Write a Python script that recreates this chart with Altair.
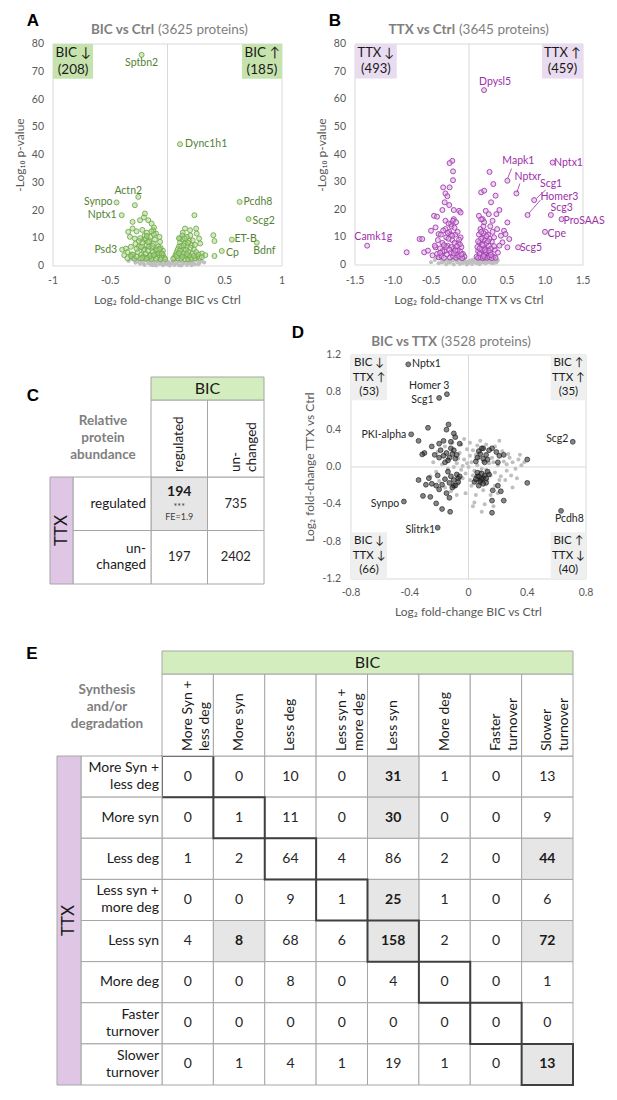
import altair as alt
import pandas as pd

W, H = 601, 1080
FONT = "Lato"
AXC = "#595959"
FRAME = "#d9d9d9"
BORDER = "#a6a6a6"

# ======================= DATA =======================
# ---- Panel A : BIC vs Ctrl (x = log2 FC, y = -log10 p) ----
a_sig = [
    (-0.226, 76.1), (0.109, 43.9), (-0.255, 24.9), (-0.445, 22.9), (-0.40, 18.3),
    (-0.396, 5.9), (-0.363, 6.3), (-0.378, 3.9), (0.63, 23.1), (0.708, 16.9),
    (0.562, 9.5), (0.78, 8.4), (0.474, 5.4), (0.40, 11.1), (0.41, 9.0), (0.41, 3.6),
    (0.235, 18.3),
    (-0.285, 21.9), (-0.197, 18.9), (-0.206, 17.5), (-0.24, 16.5), (-0.305, 15.9),
    (-0.168, 16.5), (-0.139, 15.3), (-0.118, 13.9), (-0.343, 12.3), (-0.305, 13.5),
    (-0.27, 12.5), (-0.328, 10.5), (-0.285, 9.9), (-0.206, 9.5), (-0.124, 12.9),
    (-0.10, 11.7), (-0.07, 10.5), (-0.065, 8.7), (-0.32, 6.9), (-0.35, 5.0), (-0.31, 4.2),
    (-0.28, 8.0), (-0.25, 7.0), (-0.22, 8.5), (-0.20, 6.0), (-0.18, 7.5), (-0.16, 9.0),
    (-0.14, 6.5), (-0.12, 8.0), (-0.10, 5.5), (-0.08, 7.0), (-0.06, 5.0), (-0.04, 4.0),
    (-0.03, 3.0), (-0.26, 5.0), (-0.23, 4.0), (-0.21, 3.5), (-0.19, 4.5), (-0.17, 3.0),
    (-0.15, 4.0), (-0.13, 3.2), (-0.11, 4.2), (-0.09, 3.3), (-0.07, 3.8), (-0.05, 3.0),
    (-0.30, 4.0), (-0.32, 3.5), (-0.24, 10.0), (-0.20, 11.0), (-0.15, 10.5), (-0.12, 11.5),
    (-0.18, 12.0), (-0.22, 13.0), (-0.17, 5.5), (-0.13, 5.0), (-0.09, 6.0), (-0.06, 6.5),
    (-0.27, 6.2), (-0.24, 2.8), (-0.19, 2.6), (-0.14, 2.5), (-0.10, 2.6), (-0.06, 2.4),
    (-0.02, 2.5), (-0.35, 2.8), (-0.29, 2.6), (-0.16, 7.0), (-0.11, 9.5), (-0.08, 4.6),
    (-0.21, 5.8), (-0.25, 9.0), (-0.19, 9.8), (-0.14, 12.5), (-0.04, 5.5),
    (-0.23, 6.8), (-0.17, 8.6), (-0.13, 7.2), (-0.07, 6.0), (-0.05, 4.5), (-0.15, 3.6),
    (-0.22, 2.9), (-0.27, 3.4), (-0.12, 3.9), (-0.18, 10.8),
    (0.153, 13.5), (0.133, 12.0), (0.197, 12.9), (0.255, 11.7), (0.276, 9.9), (0.285, 8.1),
    (0.25, 13.5), (0.11, 9.9), (0.30, 4.5), (0.33, 3.9),
    (0.06, 3.0), (0.08, 5.0), (0.10, 7.0), (0.12, 4.0), (0.14, 6.0), (0.16, 3.5),
    (0.18, 5.0), (0.20, 3.0), (0.22, 4.5), (0.24, 2.8), (0.26, 3.5), (0.28, 3.0),
    (0.07, 4.0), (0.09, 6.0), (0.11, 8.5), (0.13, 9.5), (0.15, 8.0), (0.17, 7.0),
    (0.19, 9.0), (0.21, 7.5), (0.23, 6.0), (0.25, 5.0), (0.09, 2.8), (0.12, 2.6),
    (0.15, 2.5), (0.18, 2.4), (0.21, 2.6), (0.05, 2.6), (0.13, 11.0), (0.10, 10.0),
    (0.17, 10.5), (0.20, 11.0), (0.08, 3.6), (0.14, 4.5), (0.19, 3.8), (0.27, 4.2),
    (0.30, 3.2), (0.11, 5.5), (0.16, 5.8), (0.12, 7.2), (0.18, 8.3), (0.22, 9.2),
    (0.24, 7.6), (0.15, 10.0), (0.10, 4.6), (0.13, 3.3), (0.17, 4.3), (0.20, 6.6),
    (0.14, 7.4), (0.23, 3.6),
]
a_ns = [
    (-0.34, 1.8), (-0.30, 2.4), (-0.28, 1.2), (-0.26, 2.0), (-0.24, 0.8), (-0.22, 1.6),
    (-0.20, 0.4), (-0.19, 2.2), (-0.17, 1.1), (-0.15, 0.5), (-0.14, 1.8), (-0.12, 0.9),
    (-0.10, 0.2), (-0.09, 1.5), (-0.07, 0.7), (-0.05, 1.2), (-0.04, 0.3), (-0.02, 0.9),
    (0.00, 0.5), (0.01, 1.4), (0.02, 0.2), (0.03, 0.8), (0.05, 1.6), (0.06, 0.4),
    (0.08, 1.0), (0.10, 0.3), (0.11, 1.7), (0.13, 0.7), (0.15, 1.3), (0.17, 0.4),
    (0.19, 1.9), (0.20, 0.9), (0.22, 1.5), (0.24, 0.6), (0.26, 2.0), (0.28, 1.1),
    (0.30, 1.8), (0.32, 1.3), (-0.08, 2.1), (0.07, 2.2), (-0.32, 2.6), (-0.29, 2.7),
    (-0.25, 1.4), (-0.21, 0.9), (-0.16, 1.6), (-0.11, 1.3), (-0.06, 1.8), (-0.01, 1.7),
    (0.04, 1.2), (0.09, 1.5), (0.14, 1.0), (0.18, 1.4), (0.23, 1.1), (0.27, 0.6),
    (-0.13, 0.3), (-0.03, 0.6), (0.12, 0.2), (0.21, 0.3),
]
a_lab_left = [("Dync1h1", 0.153, 44.0), ("Pcdh8", 0.664, 22.9), ("Scg2", 0.743, 16.3),
              ("ET-B", 0.585, 9.9), ("Cp", 0.512, 4.8)]
a_lab_center = [("Sptbn2", -0.226, 73.1), ("Actn2", -0.343, 27.1), ("Bdnf", 0.846, 5.4)]
a_lab_right = [("Synpo", -0.48, 22.9), ("Nptx1", -0.445, 18.3), ("Psd3", -0.44, 5.7)]
a_boxes = [("BIC ↓\n(208)", -1.0, -0.65, 67.5, 80.0), ("BIC ↑\n(185)", 0.65, 1.0, 67.5, 80.0)]
a_xticks = [(-1, "-1"), (-0.5, "-0.5"), (0, "0"), (0.5, "0.5"), (1, "1")]
a_yticks = [(v, str(v)) for v in [0, 10, 20, 30, 40, 50, 60, 70, 80]]

# ---- Panel B : TTX vs Ctrl ----
b_sig = [
    (0.198, 63.3), (0.505, 30.5), (1.10, 37.1), (0.624, 25.9), (0.857, 23.5), (0.77, 18.1),
    (1.077, 18.1), (1.218, 16.6), (1.00, 12.0), (0.646, 6.4), (-1.34, 7.0),
    (-0.82, 4.6), (-0.65, 9.4), (-0.615, 9.4), (-0.59, 4.6), (-0.54, 5.2), (-0.44, 6.4),
    (-0.22, 37.7), (-0.255, 36.9), (-0.21, 33.9), (-0.21, 30.7), (-0.34, 28.1), (-0.255, 28.1),
    (-0.31, 25.9), (-0.285, 24.9), (-0.32, 22.7), (-0.26, 21.7), (-0.35, 19.9), (-0.46, 17.8),
    (-0.42, 17.5), (-0.20, 19.9), (-0.13, 19.6), (-0.11, 19.0), (-0.20, 16.6), (-0.44, 13.6),
    (-0.50, 12.4), (-0.40, 11.2), (-0.31, 16.0), (-0.24, 14.8),
    (0.27, 33.7), (0.32, 29.3), (0.16, 26.3), (0.20, 26.9), (0.35, 25.1), (0.29, 22.7),
    (0.40, 19.9), (0.36, 18.4), (0.505, 15.4), (0.46, 12.4), (0.48, 11.2), (0.42, 10.6),
    (0.53, 9.4), (0.44, 8.2), (0.505, 6.4), (0.22, 19.6), (0.26, 18.4), (0.13, 17.8),
    (0.18, 16.6), (0.31, 16.0),
    (-0.42, 4.0), (-0.38, 6.0), (-0.35, 8.0), (-0.32, 5.0), (-0.30, 10.0), (-0.28, 7.0),
    (-0.26, 12.0), (-0.24, 4.5), (-0.22, 9.0), (-0.20, 6.0), (-0.18, 11.0), (-0.16, 3.5),
    (-0.14, 8.0), (-0.12, 5.0), (-0.10, 6.5), (-0.08, 4.0), (-0.06, 3.0), (-0.40, 2.8),
    (-0.36, 3.2), (-0.33, 2.6), (-0.29, 3.8), (-0.25, 2.7), (-0.21, 3.2), (-0.17, 2.6),
    (-0.13, 3.1), (-0.09, 2.5), (-0.31, 13.0), (-0.27, 15.0), (-0.23, 14.0), (-0.19, 13.5),
    (-0.15, 12.0), (-0.11, 10.0), (-0.37, 11.0), (-0.34, 12.5), (-0.41, 9.0), (-0.45, 7.0),
    (-0.48, 3.5), (-0.23, 6.5), (-0.27, 9.5), (-0.19, 8.0), (-0.15, 5.5), (-0.12, 7.5),
    (-0.35, 5.0), (-0.30, 6.5), (-0.24, 11.0), (-0.21, 16.0), (-0.17, 15.5),
    (-0.26, 5.6), (-0.20, 4.2), (-0.16, 6.8), (-0.13, 9.2), (-0.33, 7.2), (-0.28, 11.6),
    (-0.10, 3.8), (-0.38, 4.4), (-0.22, 10.6), (-0.18, 5.2),
    (0.10, 3.0), (0.12, 5.0), (0.14, 8.0), (0.16, 4.0), (0.18, 10.0), (0.20, 6.0),
    (0.22, 12.0), (0.24, 3.5), (0.26, 7.0), (0.28, 4.5), (0.30, 8.5), (0.32, 3.0),
    (0.34, 5.5), (0.11, 6.5), (0.13, 11.0), (0.15, 13.0), (0.17, 7.5), (0.19, 14.0),
    (0.21, 9.0), (0.23, 5.0), (0.25, 11.0), (0.27, 9.5), (0.29, 6.0), (0.31, 12.0),
    (0.12, 2.6), (0.15, 2.8), (0.18, 2.5), (0.21, 2.7), (0.24, 2.6), (0.27, 2.9),
    (0.30, 2.5), (0.35, 2.6), (0.14, 4.2), (0.17, 5.5), (0.20, 3.8), (0.22, 4.6),
    (0.26, 5.2), (0.16, 9.5), (0.19, 11.5), (0.23, 8.0), (0.20, 15.5), (0.16, 16.5),
    (0.28, 14.0), (0.33, 10.0), (0.38, 4.5), (0.40, 7.0), (0.37, 13.0),
    (0.14, 6.0), (0.18, 7.2), (0.21, 5.4), (0.25, 8.6), (0.12, 8.6), (0.19, 3.2),
    (0.16, 12.0), (0.29, 3.6), (0.23, 10.4), (0.33, 6.8),
]
b_ns = [
    (-0.50, 1.0), (-0.45, 1.8), (-0.40, 0.6), (-0.37, 2.2), (-0.34, 1.2), (-0.30, 0.3),
    (-0.28, 1.9), (-0.25, 0.8), (-0.22, 1.5), (-0.20, 0.2), (-0.18, 2.3), (-0.15, 1.0),
    (-0.12, 0.4), (-0.10, 1.7), (-0.08, 0.7), (-0.05, 1.3), (-0.03, 0.2), (0.00, 0.9),
    (0.02, 1.6), (0.04, 0.4), (0.06, 1.1), (0.08, 2.0), (0.10, 0.6), (0.12, 1.4),
    (0.14, 0.3), (0.16, 1.8), (0.18, 0.9), (0.20, 1.5), (0.22, 0.5), (0.24, 2.1),
    (0.26, 1.0), (0.28, 1.7), (0.30, 0.6), (0.32, 1.3), (0.34, 2.0), (0.36, 0.9),
    (0.38, 1.6), (-0.42, 2.6), (0.35, 2.5), (-0.06, 2.4),
    (-0.32, 1.6), (-0.27, 1.1), (-0.23, 2.0), (-0.17, 1.5), (-0.13, 2.0), (-0.07, 1.8),
    (-0.01, 1.4), (0.05, 1.9), (0.11, 1.1), (0.15, 1.5), (0.19, 2.2), (0.25, 1.4),
    (0.29, 1.2), (0.33, 0.7), (-0.36, 0.9), (-0.02, 0.5),
]
b_lab_center = [("Dpysl5", 0.343, 66.3), ("Mapk1", 0.65, 37.7), ("Nptxr", 0.774, 31.7),
                ("Scg1", 1.08, 29.5), ("Homer3", 1.19, 24.5), ("Scg3", 1.22, 20.5),
                ("Camk1g", -1.26, 10.0)]
b_lab_left = [("Nptx1", 1.12, 37.1), ("ProSAAS", 1.244, 16.0), ("Cpe", 1.033, 11.4),
              ("Scg5", 0.67, 6.1)]
b_leaders = [(0.56, 34.9, 0.51, 31.5), (0.67, 29.5, 0.63, 26.3),
             (0.89, 24.2, 1.01, 27.2), (0.79, 18.8, 0.94, 23.5)]
b_boxes = [("TTX ↓\n(493)", -1.5, -0.95, 67.5, 80.0), ("TTX ↑\n(459)", 0.96, 1.5, 67.5, 80.0)]
b_xticks = [(-1.5, "-1.5"), (-1.0, "-1.0"), (-0.5, "-0.5"), (0, "0.0"), (0.5, "0.5"),
            (1.0, "1.0"), (1.5, "1.5")]
b_yticks = a_yticks

# ---- Panel D : BIC vs TTX ----
d_reg = [
    (-0.41, 1.10), (-0.147, 0.78), (-0.20, 0.74), (-0.39, 0.35), (0.71, 0.27), (-0.44, -0.37),
    (0.63, -0.47), (-0.21, -0.65),
    (-0.276, 0.42), (-0.136, 0.455), (-0.15, 0.40), (-0.34, 0.28), (-0.30, 0.15), (-0.315, 0.135),
    (0.40, 0.08), (0.40, -0.17), (-0.34, -0.14), (-0.31, -0.31), (-0.26, -0.32), (-0.22, -0.39),
    (-0.18, -0.45), (-0.125, -0.48), (0.16, -0.49), (0.16, -0.36), (0.24, -0.36), (0.165, -0.25),
    (-0.10, 0.36), (-0.09, 0.32), (-0.25, 0.22), (-0.20, 0.25), (-0.17, 0.28), (-0.12, 0.27),
    (-0.06, 0.25), (0.10, 0.20), (0.16, 0.20), (0.19, 0.16), (0.21, 0.12), (0.20, 0.05),
    (0.24, 0.13), (-0.27, -0.12), (-0.25, -0.18), (-0.22, -0.20), (-0.20, -0.24), (-0.15, -0.28),
    (-0.13, -0.33), (-0.10, -0.20), (-0.07, -0.12), (-0.29, -0.19), (-0.21, -0.09),
    (0.06, -0.10), (0.08, -0.14), (0.10, -0.12), (0.12, -0.17), (0.14, -0.08), (0.07, -0.20),
    (0.20, -0.20), (0.22, -0.26), (0.04, -0.16),
    (-0.15, 0.15), (-0.13, 0.10), (-0.11, 0.14), (-0.09, 0.09), (-0.14, 0.07), (-0.10, 0.18),
    (-0.17, 0.12), (-0.08, 0.13), (-0.12, 0.20), (-0.16, 0.05), (-0.20, 0.10), (-0.19, 0.18),
    (-0.23, 0.13), (0.06, 0.10), (0.08, 0.14), (0.10, 0.09), (0.12, 0.13), (0.07, 0.17),
    (0.11, 0.05), (0.09, 0.20), (0.05, 0.06), (0.13, 0.08), (0.14, 0.18),
    (-0.12, -0.10), (-0.10, -0.14), (-0.08, -0.08), (-0.13, -0.17), (-0.09, -0.20), (-0.06, -0.10),
    (-0.14, -0.05), (-0.11, -0.22), (-0.16, -0.13), (-0.18, -0.19), (-0.07, -0.16),
    (0.07, -0.10), (0.09, -0.13), (0.11, -0.09), (0.08, -0.16), (0.10, -0.18), (0.06, -0.06),
    (0.12, -0.12), (0.13, -0.05), (0.05, -0.13), (0.09, -0.07),
]
d_other = [
    (0.00, 0.00), (0.02, 0.05), (-0.03, 0.08), (0.04, -0.04), (-0.05, -0.03), (0.06, 0.02),
    (-0.02, -0.07), (0.01, 0.12), (-0.06, 0.15), (0.03, 0.18), (0.07, 0.10), (-0.08, 0.04),
    (0.09, -0.02), (-0.04, -0.12), (0.05, -0.15), (0.02, -0.20), (-0.07, -0.18), (0.10, 0.06),
    (-0.10, 0.00), (0.12, -0.03), (0.14, 0.04), (0.16, 0.10), (0.18, -0.06), (0.20, 0.02),
    (0.22, -0.10), (0.24, 0.06), (0.26, -0.04), (0.28, 0.10), (0.30, 0.05), (0.32, -0.02),
    (0.34, 0.08), (0.27, 0.14), (0.23, 0.17), (0.25, -0.14), (0.29, -0.09), (0.18, -0.20),
    (0.20, -0.28), (0.15, -0.30), (0.10, -0.25), (0.05, -0.30), (-0.02, -0.28), (-0.08, -0.30),
    (-0.12, -0.26), (-0.16, -0.22), (-0.20, -0.15), (-0.22, -0.05), (-0.24, 0.05), (-0.21, 0.16),
    (-0.16, 0.22), (-0.11, 0.26), (-0.05, 0.24), (0.01, 0.26), (0.06, 0.23), (0.12, 0.24),
    (0.18, 0.22), (-0.14, -0.02), (-0.18, 0.03), (0.13, -0.14), (0.08, 0.28), (-0.03, 0.30),
    (0.33, -0.12), (0.36, 0.02), (0.35, 0.13), (-0.26, -0.10), (0.04, -0.38), (0.11, -0.40),
    (0.17, -0.42), (0.30, -0.22), (0.21, 0.28), (0.38, 0.05), (0.09, -0.48), (0.03, -0.42),
    (-0.01, 0.04), (0.03, -0.09), (-0.04, 0.01), (0.05, 0.13), (0.01, -0.14), (-0.07, 0.09),
    (0.08, -0.05), (-0.01, 0.19), (0.15, -0.09), (0.17, 0.05), (0.21, -0.14), (0.26, 0.03),
]
d_lab_left = [("Nptx1", -0.385, 1.10)]
d_lab_center = [("Homer 3", -0.267, 0.866), ("Pcdh8", 0.687, -0.554)]
d_lab_right = [("Scg1", -0.238, 0.715), ("PKI-alpha", -0.424, 0.347), ("Scg2", 0.68, 0.304),
               ("Synpo", -0.471, -0.393), ("Slitrk1", -0.227, -0.672)]
d_boxes = [("BIC ↓\nTTX ↑\n(53)", -0.8, -0.555, 0.715, 1.2),
           ("BIC ↑\nTTX ↑\n(35)", 0.56, 0.8, 0.715, 1.2),
           ("BIC ↓\nTTX ↓\n(66)", -0.8, -0.555, -1.2, -0.70),
           ("BIC ↑\nTTX ↓\n(40)", 0.56, 0.8, -1.2, -0.70)]
d_xticks = [(-0.8, "-0.8"), (-0.4, "-0.4"), (0, "0"), (0.4, "0.4"), (0.8, "0.8")]
d_yticks = [(-1.2, "-1.2"), (-0.8, "-0.8"), (-0.4, "-0.4"), (0, "0.0"), (0.4, "0.4"),
            (0.8, "0.8"), (1.2, "1.2")]

# ---- Panel C : overlap table ----
c_cats = ["regulated", "unchanged"]
c_labels = ["regulated", "un-\nchanged"]
c_counts = [[194, 735], [197, 2402]]
c_highlight = [(0, 0)]

# ---- Panel E : synthesis / degradation table ----
e_cats = ["More Syn + less deg", "More syn", "Less deg", "Less syn + more deg",
          "Less syn", "More deg", "Faster turnover", "Slower turnover"]
e_labels = ["More Syn +\nless deg", "More syn", "Less deg", "Less syn +\nmore deg",
            "Less syn", "More deg", "Faster\nturnover", "Slower\nturnover"]
e_counts = [
    [0, 0, 10, 0, 31, 1, 0, 13],
    [0, 1, 11, 0, 30, 0, 0, 9],
    [1, 2, 64, 4, 86, 2, 0, 44],
    [0, 0, 9, 1, 25, 1, 0, 6],
    [4, 8, 68, 6, 158, 2, 0, 72],
    [0, 0, 8, 0, 4, 0, 0, 1],
    [0, 0, 0, 0, 0, 0, 0, 0],
    [0, 1, 4, 1, 19, 1, 0, 13],
]
e_highlight = [(0, 4), (1, 4), (2, 7), (3, 4), (4, 1), (4, 4), (4, 7), (7, 7)]


# ======================= HELPERS =======================
def qscale(domain, rng):
    return alt.Scale(domain=domain, range=rng, nice=False, zero=False)


def nlines(t):
    return t.count("\n") + 1


def fixed_text(t, x, y, size=13, weight="normal", color="#262626", align="center",
               angle=0, font=FONT, lh=16):
    dy = -(nlines(t) - 1) * lh / 2 if angle == 0 else 0
    return alt.Chart(pd.DataFrame({"t": [t]})).mark_text(
        align=align, baseline="middle", fontSize=size, fontWeight=weight, color=color,
        font=font, angle=angle, lineBreak="\n", lineHeight=lh, dy=dy
    ).encode(x=alt.value(x), y=alt.value(y), text="t:N")


def fixed_rect(x0, x1, y0, y1, fill, stroke=BORDER):
    return alt.Chart(pd.DataFrame({"k": [0]})).mark_rect(
        fill=fill, stroke=stroke, strokeWidth=1
    ).encode(x=alt.value(x0), x2=alt.value(x1), y=alt.value(y0), y2=alt.value(y1))


def scatter_panel(sx, sy, dx, dy, zero_h, xticks, yticks, xtick_y, ytick_x,
                  boxes, box_fill, box_size, ns, sig, sig_mark, labs, lab_color, leaders=None):
    X = lambda f: alt.X(f, type="quantitative", scale=sx, axis=None)
    Y = lambda f: alt.Y(f, type="quantitative", scale=sy, axis=None)
    layers = []
    frame = pd.DataFrame({"x0": [dx[0]], "x1": [dx[1]], "y0": [dy[0]], "y1": [dy[1]]})
    layers.append(alt.Chart(frame).mark_rect(fill="white", fillOpacity=0, stroke=FRAME,
                                             strokeWidth=1)
                  .encode(x=X("x0"), x2="x1", y=Y("y0"), y2="y1"))
    zl = pd.DataFrame({"x": [0.0], "y0": [dy[0]], "y1": [dy[1]]})
    layers.append(alt.Chart(zl).mark_rule(color=FRAME, strokeWidth=1)
                  .encode(x=X("x"), y=Y("y0"), y2="y1"))
    if zero_h:
        zh = pd.DataFrame({"y": [0.0], "x0": [dx[0]], "x1": [dx[1]]})
        layers.append(alt.Chart(zh).mark_rule(color=FRAME, strokeWidth=1)
                      .encode(y=Y("y"), x=X("x0"), x2="x1"))
    xt = pd.DataFrame(xticks, columns=["v", "t"])
    layers.append(alt.Chart(xt).mark_text(font=FONT, fontSize=10.5, color=AXC,
                                          baseline="middle")
                  .encode(x=X("v"), y=alt.value(xtick_y), text="t:N"))
    yt = pd.DataFrame(yticks, columns=["v", "t"])
    layers.append(alt.Chart(yt).mark_text(font=FONT, fontSize=10.5, color=AXC,
                                          baseline="middle", align="right")
                  .encode(y=Y("v"), x=alt.value(ytick_x), text="t:N"))
    bdf = pd.DataFrame(boxes, columns=["t", "x0", "x1", "y0", "y1"])
    layers.append(alt.Chart(bdf).mark_rect(fill=box_fill, stroke=None)
                  .encode(x=X("x0"), x2="x1", y=Y("y0"), y2="y1"))
    blh = box_size + 3
    bdy = -(nlines(boxes[0][0]) - 1) * blh / 2
    layers.append(alt.Chart(bdf).transform_calculate(
        xc="(datum.x0 + datum.x1) / 2", yc="(datum.y0 + datum.y1) / 2"
    ).mark_text(font=FONT, fontSize=box_size, color="#1a1a1a", lineBreak="\n",
                lineHeight=blh, baseline="middle", dy=bdy)
                  .encode(x=X("xc:Q"), y=Y("yc:Q"), text="t:N"))
    layers.append(alt.Chart(pd.DataFrame(ns, columns=["x", "y"]))
                  .mark_circle(size=16, color="#bfbfbf", opacity=1)
                  .encode(x=X("x"), y=Y("y")))
    layers.append(alt.Chart(pd.DataFrame(sig, columns=["x", "y"])).mark_circle(**sig_mark)
                  .encode(x=X("x"), y=Y("y")))
    if leaders:
        ldf = pd.DataFrame(leaders, columns=["x0", "y0", "x1", "y1"])
        layers.append(alt.Chart(ldf).mark_rule(color=lab_color, strokeWidth=0.8)
                      .encode(x=X("x0"), y=Y("y0"), x2="x1", y2="y1"))
    for align, rows in labs:
        if not rows:
            continue
        ldf = pd.DataFrame(rows, columns=["t", "x", "y"])
        layers.append(alt.Chart(ldf).mark_text(align=align, baseline="middle", font=FONT,
                                               fontSize=10.5, color=lab_color)
                      .encode(x=X("x"), y=Y("y"), text="t:N"))
    return alt.layer(*layers)


# ---------------- Panel A ----------------
panelA = scatter_panel(
    qscale([-1, 1], [45, 274]), qscale([0, 80], [258, 36]), [-1, 1], [0, 80], False,
    a_xticks, a_yticks, 273, 36,
    a_boxes, "#c6e3ad", 13.5, a_ns, a_sig,
    dict(size=25, fill="#a9d18e", fillOpacity=0.5, stroke="#70ad47", strokeWidth=0.9),
    [("left", a_lab_left), ("center", a_lab_center), ("right", a_lab_right)], "#548235")

# ---------------- Panel B ----------------
panelB = scatter_panel(
    qscale([-1.5, 1.5], [347, 575]), qscale([0, 80], [257, 36]), [-1.5, 1.5], [0, 80], False,
    b_xticks, b_yticks, 273, 338,
    b_boxes, "#eadcf0", 13, b_ns, b_sig,
    dict(size=25, fill="#d9a8e0", fillOpacity=0.5, stroke="#a23bb0", strokeWidth=0.9),
    [("left", b_lab_left), ("center", b_lab_center)], "#9c2fa8", b_leaders)

# ---------------- Panel D ----------------
panelD = scatter_panel(
    qscale([-0.8, 0.8], [343, 578]), qscale([-1.2, 1.2], [571, 347]), [-0.8, 0.8], [-1.2, 1.2],
    True, d_xticks, d_yticks, 585, 333,
    d_boxes, "#efefef", 11.5, d_other, d_reg,
    dict(size=24, fill="#333333", fillOpacity=0.6, stroke="#111111", strokeWidth=0.6),
    [("left", d_lab_left), ("center", d_lab_center), ("right", d_lab_right)], "#262626")


# ---------------- Tables ----------------
def table_panel(cats, labels, counts, highlight, xr, yr, hdr_y, lab_x, strip_x, big,
                lh, num_size, extra_hl=None, diagonal=False):
    SX = alt.Scale(type="band", domain=cats, range=xr, paddingInner=0, paddingOuter=0)
    SY = alt.Scale(type="band", domain=cats, range=yr, paddingInner=0, paddingOuter=0)
    cx = alt.X("col:N", scale=SX, axis=None)
    cy = alt.Y("row:N", scale=SY, axis=None)
    recs = []
    for i, r in enumerate(cats):
        for j, c in enumerate(cats):
            recs.append({"row": r, "col": c, "n": str(counts[i][j]),
                         "hl": (i, j) in highlight, "diag": i == j})
    cells = pd.DataFrame(recs)
    heads = pd.DataFrame({"col": cats, "lab": labels})
    rowsdf = pd.DataFrame({"row": cats, "lab": labels,
                           "nl": [nlines(t) for t in labels]})
    L = []
    L.append(alt.Chart(cells[~cells.hl]).mark_rect(fill="white", stroke=BORDER, strokeWidth=1)
             .encode(x=cx, y=cy))
    L.append(alt.Chart(cells[cells.hl]).mark_rect(fill="#e7e6e6", stroke=BORDER, strokeWidth=1)
             .encode(x=cx, y=cy))
    if diagonal:
        L.append(alt.Chart(cells[cells.diag]).mark_rect(fill="white", fillOpacity=0,
                                                        stroke="#404040", strokeWidth=2)
                 .encode(x=cx, y=cy))
    plain = cells[~cells.hl]
    L.append(alt.Chart(plain).mark_text(font=FONT, fontSize=num_size, color="#262626",
                                        baseline="middle")
             .encode(x=cx, y=cy, text="n:N"))
    hl = cells[cells.hl]
    if extra_hl is None:
        L.append(alt.Chart(hl).mark_text(font=FONT, fontSize=num_size, fontWeight="bold",
                                         color="#1a1a1a", baseline="middle")
                 .encode(x=cx, y=cy, text="n:N"))
    else:
        L.append(alt.Chart(hl).mark_text(font=FONT, fontSize=num_size + 1, fontWeight="bold",
                                         color="#1a1a1a", baseline="middle", dy=-12)
                 .encode(x=cx, y=cy, text="n:N"))
        for txt, dy, sz in extra_hl:
            L.append(alt.Chart(hl.assign(t=txt)).mark_text(font=FONT, fontSize=sz,
                                                          color="#404040", baseline="middle",
                                                          dy=dy)
                     .encode(x=cx, y=cy, text="t:N"))
    L.append(alt.Chart(heads).mark_rect(fill="white", stroke=BORDER, strokeWidth=1)
             .encode(x=cx, y=alt.value(hdr_y[0]), y2=alt.value(hdr_y[1])))
    L.append(alt.Chart(heads).mark_text(font=FONT, fontSize=big, color="#1a1a1a", angle=270,
                                        align="left", baseline="middle", lineBreak="\n",
                                        lineHeight=lh)
             .encode(x=cx, y=alt.value(hdr_y[1] - 5), text="lab:N"))
    L.append(alt.Chart(rowsdf).mark_rect(fill="white", stroke=BORDER, strokeWidth=1)
             .encode(x=alt.value(strip_x[1]), x2=alt.value(xr[0]), y=cy))
    for n in sorted(set(rowsdf.nl)):
        L.append(alt.Chart(rowsdf[rowsdf.nl == n]).mark_text(
            font=FONT, fontSize=big, color="#1a1a1a", align="right", baseline="middle",
            lineBreak="\n", lineHeight=lh, dy=-(n - 1) * lh / 2)
            .encode(x=alt.value(lab_x), y=cy, text="lab:N"))
    return alt.layer(*L)


panelC = table_panel(c_cats, c_labels, c_counts, c_highlight, [143, 256], [469, 576],
                     (392, 469), 138, (42, 65), 13.5, 16, 13,
                     extra_hl=[("***", 3, 9), ("FE=1.9", 13, 9)])
panelE = table_panel(e_cats, e_labels, e_counts, e_highlight, [154, 565], [748, 1077],
                     (666, 748), 151, (49, 73), 14, 17, 14, diagonal=True)

GRAYT = "#7f7f7f"
LETTER = dict(size=17, weight="bold", color="black", font="Liberation Sans")
annotations = [
    fixed_text("A", 25, 13, **LETTER),
    fixed_text("B", 327, 13, **LETTER),
    fixed_text("C", 25, 388, **LETTER),
    fixed_text("D", 290, 325, **LETTER),
    fixed_text("E", 24, 646, **LETTER),
    # panel titles
    fixed_text("BIC vs Ctrl", 146, 22, size=13.5, weight="bold", color=GRAYT, align="right"),
    fixed_text("(3625 proteins)", 150, 22, size=13.5, color=GRAYT, align="left"),
    fixed_text("TTX vs Ctrl", 447, 22, size=13.5, weight="bold", color=GRAYT, align="right"),
    fixed_text("(3645 proteins)", 451, 22, size=13.5, color=GRAYT, align="left"),
    fixed_text("BIC vs TTX", 429, 334, size=13.5, weight="bold", color=GRAYT, align="right"),
    fixed_text("(3528 proteins)", 433, 334, size=13.5, color=GRAYT, align="left"),
    # axis titles
    fixed_text("Log₂ fold-change BIC vs Ctrl", 159.5, 292, size=12, color=AXC),
    fixed_text("-Log₁₀ p-value", 12, 147, size=12, color=AXC, angle=270),
    fixed_text("Log₂ fold-change TTX vs Ctrl", 461, 292, size=12, color=AXC),
    fixed_text("-Log₁₀ p-value", 314, 147, size=12, color=AXC, angle=270),
    fixed_text("Log₂ fold-change BIC vs Ctrl", 460.5, 604, size=12, color=AXC),
    fixed_text("Log₂ fold-change TTX vs Ctrl", 302, 459, size=12, color=AXC, angle=270),
    # table C frame pieces
    fixed_rect(143, 256, 369, 392, "#d4edbf"),
    fixed_text("BIC", 199.5, 381, size=16, color="#1a1a1a"),
    fixed_rect(42, 65, 469, 576, "#dfc6e5"),
    fixed_text("TTX", 53.5, 522.5, size=17, color="#1a1a1a", angle=270),
    fixed_text("Relative\nprotein\nabundance", 95, 430, size=13.5, weight="bold", color=GRAYT,
               lh=17),
    # table E frame pieces
    fixed_rect(154, 565, 643, 666, "#d4edbf"),
    fixed_text("BIC", 359.5, 655, size=16, color="#1a1a1a"),
    fixed_rect(49, 73, 748, 1077, "#dfc6e5"),
    fixed_text("TTX", 61, 912.5, size=17, color="#1a1a1a", angle=270),
    fixed_text("Synthesis\nand/or\ndegradation", 99, 699, size=13.5, weight="bold", color=GRAYT,
               lh=17),
]

chart = alt.layer(panelA, panelB, panelD, panelC, panelE, *annotations).resolve_scale(
    x="independent", y="independent"
).properties(
    width=W, height=H, padding=0, autosize=alt.AutoSizeParams(type="none"), background="white"
).configure_view(stroke=None)

chart.save("out.html", embed_options={"renderer": "svg", "actions": False})
